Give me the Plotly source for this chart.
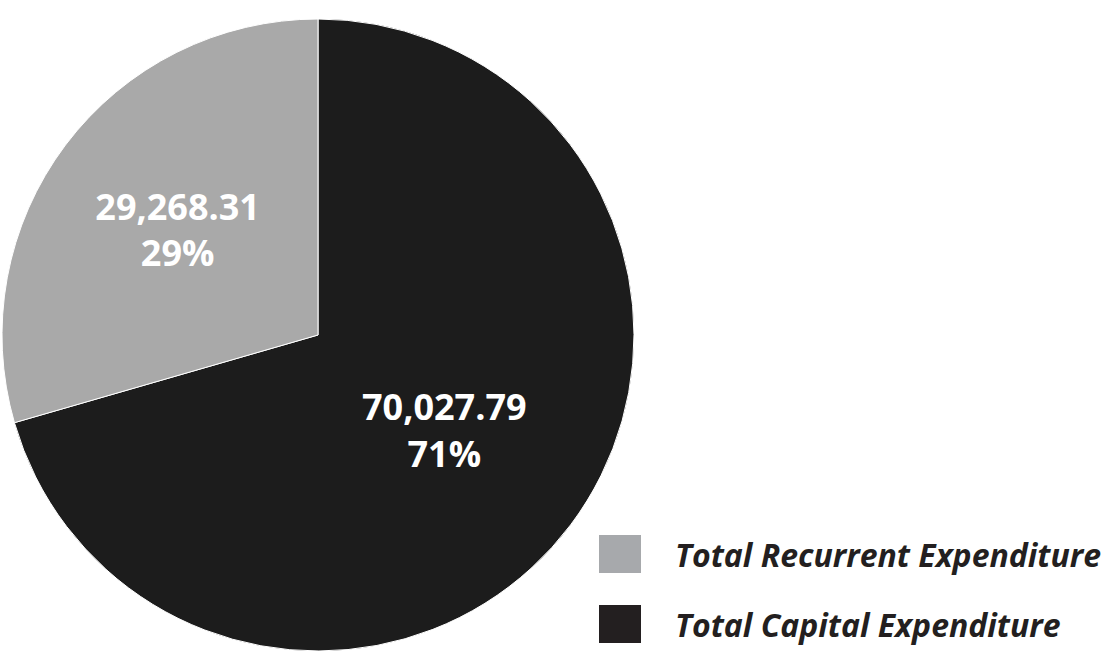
import plotly.graph_objects as go

# Expenditure breakdown
labels = ["Total Recurrent Expenditure", "Total Capital Expenditure"]
values = [29268.31, 70027.79]
slice_colors = ["#A9A9A9", "#1C1C1C"]
legend_colors = ["#A7A9AC", "#231F20"]

W, H = 1115, 662

fig = go.Figure()
# Capital slice runs clockwise from 12 o'clock, recurrent fills the rest
fig.add_trace(go.Pie(
    labels=labels[::-1],
    values=values[::-1],
    sort=False,
    direction="clockwise",
    rotation=0,
    marker=dict(colors=slice_colors[::-1], line=dict(color="white", width=1)),
    texttemplate="%{value:,.2f}<br>%{percent:.0%}",
    textposition="inside",
    insidetextorientation="horizontal",
    textfont=dict(family="Open Sans", size=36, color="white", weight="bold"),
    hoverinfo="label+value+percent",
    showlegend=False,
    domain=dict(x=[2 / W, 634 / W], y=[11 / H, 643 / H]),
))

# Legend drawn as swatches + labels
rows_y = [554, 624]
for name, col, yc in zip(labels, legend_colors, rows_y):
    fig.add_shape(type="rect", xref="paper", yref="paper",
                  x0=599 / W, x1=641 / W,
                  y0=1 - (yc + 19) / H, y1=1 - (yc - 19) / H,
                  fillcolor=col, line=dict(width=0))
    fig.add_annotation(xref="paper", yref="paper", x=673 / W, y=1 - yc / H,
                       xanchor="left", yanchor="middle", showarrow=False,
                       text=name,
                       font=dict(family="Open Sans", size=32, color="#231F20",
                                 weight="bold", style="italic"))

fig.update_layout(
    width=W, height=H,
    margin=dict(l=0, r=0, t=0, b=0),
    paper_bgcolor="white",
    plot_bgcolor="white",
)

fig.write_html("out.html")
